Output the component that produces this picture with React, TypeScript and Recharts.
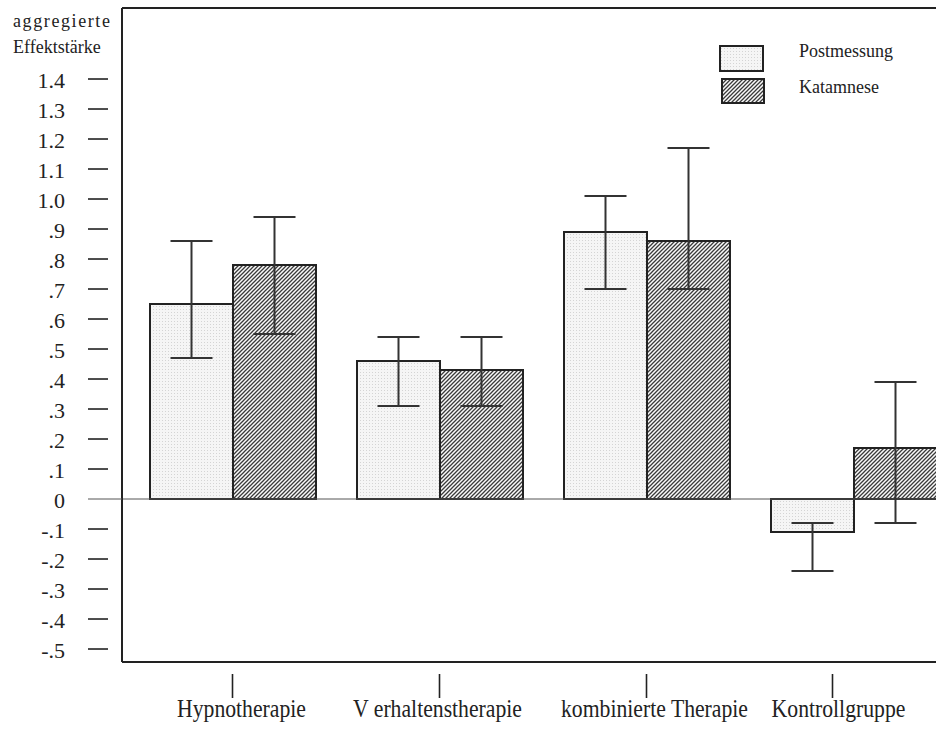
import React from 'react';
import { BarChart, Bar, XAxis, YAxis, ErrorBar, ReferenceLine, Legend } from 'recharts';

const categories = ['Hypnotherapie', 'V erhaltenstherapie', 'kombinierte Therapie', 'Kontrollgruppe'];
const postValues = [0.65, 0.46, 0.89, -0.11];
const postLow = [0.47, 0.31, 0.7, -0.24];
const postHigh = [0.86, 0.54, 1.01, -0.08];
const katValues = [0.78, 0.43, 0.86, 0.17];
const katLow = [0.55, 0.31, 0.7, -0.08];
const katHigh = [0.94, 0.54, 1.17, 0.39];
const yTicks = [-0.5, -0.4, -0.3, -0.2, -0.1, 0, 0.1, 0.2, 0.3, 0.4, 0.5, 0.6, 0.7, 0.8, 0.9, 1.0, 1.1, 1.2, 1.3, 1.4];
const yTickLabels = ['-.5', '-.4', '-.3', '-.2', '-.1', '0', '.1', '.2', '.3', '.4', '.5', '.6', '.7', '.8', '.9', '1.0', '1.1', '1.2', '1.3', '1.4'];
const seriesNames = ['Postmessung', 'Katamnese'];
const yTitle = ['aggregierte', 'Effektstärke'];

const Y_MIN = -0.5433;
const Y_MAX = 1.6367;

const data = categories.map((c, i) => ({
  name: c,
  post: postValues[i],
  postErr: [postValues[i] - postLow[i], postHigh[i] - postValues[i]],
  kat: katValues[i],
  katErr: [katValues[i] - katLow[i], katHigh[i] - katValues[i]],
}));

const FONT = '"Liberation Serif", "Times New Roman", serif';
const INK = '#222';
const labelNudge = [9, -2, 8, -15];
const tickNudge = [0, 0, 0, -21];

const YTick = (props: any) => {
  const { x, y, payload } = props;
  const idx = yTicks.indexOf(payload.value);
  const label = idx >= 0 ? yTickLabels[idx] : String(payload.value);
  const isZero = payload.value === 0;
  return (
    <g>
      <line x1={x - 34} x2={isZero ? x : x - 14} y1={y} y2={y} stroke={isZero ? '#555' : INK} strokeWidth={isZero ? 1 : 1.6} />
      <text x={x - 57} y={y + 9} textAnchor="end" fontFamily={FONT} fontSize={22} fill={INK}>{label}</text>
    </g>
  );
};

const XTick = (props: any) => {
  const { x, y, payload, index } = props;
  const tn = tickNudge[index] || 0;
  const ln = labelNudge[index] || 0;
  return (
    <g>
      <line x1={x + tn} x2={x + tn} y1={y + 12} y2={y + 36} stroke={INK} strokeWidth={1.6} />
      <g transform={`translate(${x + ln},${y + 55}) scale(0.835,1)`}>
        <text x={0} y={0} textAnchor="middle" fontFamily={FONT} fontSize={26} fill={INK}>{payload.value}</text>
      </g>
    </g>
  );
};

const YTitle = () => (
  <g>
    <text x={13} y={27} fontFamily={FONT} fontSize={18} letterSpacing={1.6} fill={INK}>{yTitle[0]}</text>
    <text x={13} y={53} fontFamily={FONT} fontSize={18} fill={INK}>{yTitle[1]}</text>
  </g>
);

const LegendContent = () => (
  <svg width={236} height={80} style={{ display: 'block' }}>
    <rect x={20} y={16} width={43} height={25} fill="url(#dotsPat)" stroke={INK} strokeWidth={2} />
    <text x={99} y={27} fontFamily={FONT} fontSize={18} fill={INK}>{seriesNames[0]}</text>
    <rect x={22} y={49} width={42} height={24} fill="url(#hatchPat)" stroke={INK} strokeWidth={2} />
    <text x={99} y={63} fontFamily={FONT} fontSize={18} fill={INK}>{seriesNames[1]}</text>
  </svg>
);

export default function App() {
  return (
    <div style={{ position: 'absolute', left: 0, top: 0, width: 936, height: 740, overflow: 'hidden', background: '#fff' }}>
      <BarChart
        width={957}
        height={740}
        data={data}
        margin={{ top: 8, right: 0, bottom: 0, left: 0 }}
        barCategoryGap={21}
        barGap={0}
      >
        <defs>
          <pattern id="dotsPat" patternUnits="userSpaceOnUse" width={3} height={3}>
            <rect x={0} y={0} width={3} height={3} fill="#f5f5f5" />
            <rect x={0} y={0} width={1} height={1} fill="#d4d4d4" />
          </pattern>
          <pattern id="hatchPat" patternUnits="userSpaceOnUse" width={4} height={4}>
            <rect x={0} y={0} width={4} height={4} fill="#fafafa" />
            <path d="M-1,1 l2,-2 M0,4 l4,-4 M3,5 l2,-2" stroke="#3a3a3a" strokeWidth={1.3} />
          </pattern>
        </defs>
        <XAxis
          dataKey="name"
          height={78}
          padding={{ left: 7, right: 0 }}
          interval={0}
          tickSize={0}
          tickMargin={0}
          tickLine={false}
          axisLine={{ stroke: INK, strokeWidth: 2 }}
          tick={(p: any) => <XTick {...p} />}
        />
        <YAxis
          type="number"
          width={122}
          domain={[Y_MIN, Y_MAX]}
          ticks={yTicks}
          interval={0}
          tickSize={0}
          tickMargin={0}
          tickLine={false}
          allowDataOverflow
          axisLine={{ stroke: INK, strokeWidth: 2 }}
          tick={(p: any) => <YTick {...p} />}
          label={{ content: () => <YTitle /> }}
        />
        <ReferenceLine y={0} stroke="#555" strokeWidth={1} />
        <ReferenceLine y={Y_MAX} stroke={INK} strokeWidth={2} />
        <Legend
          layout="vertical"
          align="center"
          verticalAlign="middle"
          content={() => <LegendContent />}
          wrapperStyle={{ position: 'absolute', left: 700, top: 30, width: 236, height: 80 }}
        />
        <Bar dataKey="post" name={seriesNames[0]} fill="url(#dotsPat)" stroke={INK} strokeWidth={2} isAnimationActive={false}>
          <ErrorBar dataKey="postErr" width={21} stroke="#333" strokeWidth={2} direction="y" />
        </Bar>
        <Bar dataKey="kat" name={seriesNames[1]} fill="url(#hatchPat)" stroke={INK} strokeWidth={2} isAnimationActive={false}>
          <ErrorBar dataKey="katErr" width={21} stroke="#333" strokeWidth={2} direction="y" />
        </Bar>
      </BarChart>
    </div>
  );
}
